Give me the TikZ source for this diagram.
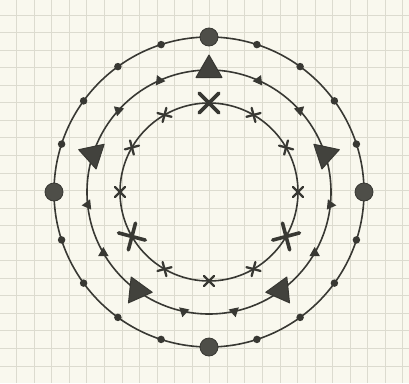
\documentclass[tikz,border=0pt]{standalone}
\usetikzlibrary{shapes.geometric,shapes.misc}
\definecolor{paperBg}{HTML}{F9F8EE}
\definecolor{paperGrid}{HTML}{DCDBCF}
\definecolor{pencilInk}{HTML}{383833}
\definecolor{pencilFill}{HTML}{4E4E48}
\tikzset{
  paperline/.style={draw=paperGrid,line width=0.9pt},
  ring/.style={draw=pencilInk,line width=1.6pt},
  bigdot/.style={circle,draw=pencilInk,fill=pencilFill,line width=0.8pt,minimum size=18pt,inner sep=0pt},
  smalldot/.style={circle,fill=pencilInk,minimum size=7.5pt,inner sep=0pt},
  bigtri/.style={regular polygon,regular polygon sides=3,draw=pencilInk,fill=pencilInk!95,line width=1pt,line join=round,minimum size=30pt,inner sep=0pt},
  smalltri/.style={regular polygon,regular polygon sides=3,fill=pencilInk,minimum size=12pt,inner sep=0pt},
  bigcross/.style={cross out,draw=pencilInk,line width=3.6pt,line cap=round,minimum size=16pt,inner sep=0pt},
  smallcross/.style={cross out,draw=pencilInk,line width=2.3pt,line cap=round,minimum size=8pt,inner sep=0pt}
}

\begin{document}
\begin{tikzpicture}[x=1pt,y=1pt]
  % graph paper
  \fill[paperBg] (0,0) rectangle (409,-383);
  \useasboundingbox (0,0) rectangle (409,-383);
  \foreach \k in {0,...,22}
    \draw[paperline] ({16.7+17.55*\k},0) -- ({16.7+17.55*\k},-383);
  \foreach \k in {0,...,20}
    \draw[paperline] (0,{-15-17.55*\k}) -- (409,{-15-17.55*\k});

  \begin{scope}[shift={(209,-192)}]
    \coordinate (c) at (0,0);
    \draw[ring] (c) circle[radius=155];
    \draw[ring] (c) circle[radius=122];
    \draw[ring] (c) circle[radius=89];

    % outer ring: dots
    \foreach \i in {0,...,19}{
      \pgfmathtruncatemacro{\k}{mod(\i,5)}
      \ifnum\k=0
        \node[bigdot] (d\i) at ({90+18*\i}:155) {};
      \else
        \node[smalldot] (d\i) at ({90+18*\i}:155) {};
      \fi
    }

    % middle ring: triangles
    \foreach \i in {0,...,14}{
      \pgfmathtruncatemacro{\k}{mod(\i,3)}
      \ifnum\k=0
        \node[bigtri,rotate=24*\i] (t\i) at ({90+24*\i}:122) {};
      \else
        \node[smalltri,rotate=24*\i] (t\i) at ({90+24*\i}:122) {};
      \fi
    }

    % inner ring: crosses
    \foreach \i in {0,...,11}{
      \pgfmathtruncatemacro{\k}{mod(\i,4)}
      \ifnum\k=0
        \node[bigcross,rotate=30*\i] (x\i) at ({90+30*\i}:89) {};
      \else
        \node[smallcross,rotate=30*\i] (x\i) at ({90+30*\i}:89) {};
      \fi
    }
  \end{scope}
\end{tikzpicture}
\end{document}
